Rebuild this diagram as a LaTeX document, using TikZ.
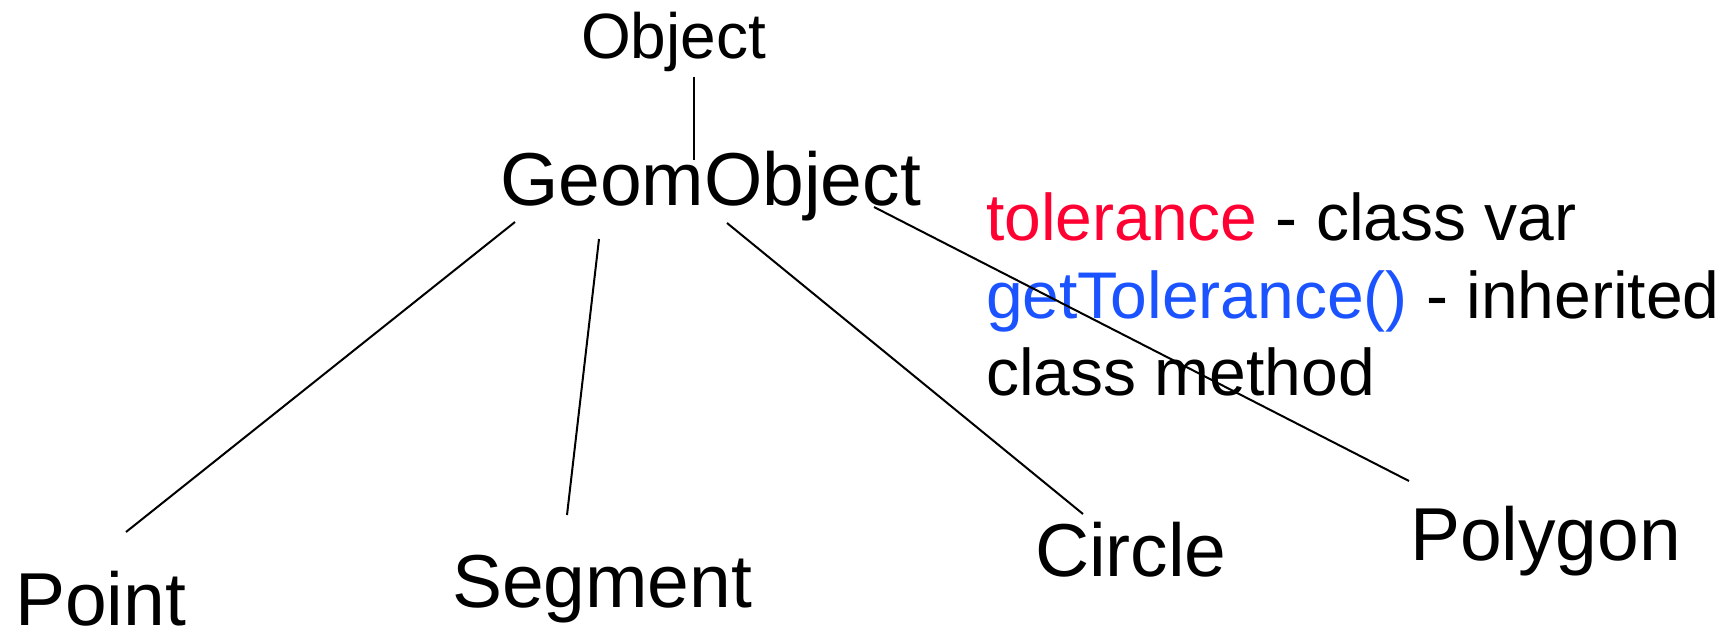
\documentclass[tikz,border=0pt]{standalone}
\usepackage{fontspec}
\setmainfont{Liberation Sans}
\definecolor{tolred}{RGB}{255,0,51}
\definecolor{getblue}{RGB}{26,83,255}
\begin{document}
\begin{tikzpicture}[x=1pt,y=-1pt,
  lbl/.style={anchor=base west, inner sep=0pt, outer sep=0pt},
  big/.style={lbl, font=\fontsize{75}{90}\selectfont},
  small/.style={lbl, font=\fontsize{64}{77}\selectfont},
  note/.style={lbl, font=\fontsize{66}{78}\selectfont},
  edge/.style={line width=2pt, line cap=butt}]
\useasboundingbox (0,0) rectangle (1733,626);
% class names
\node[small] (object) at (581,59) {Object};
\node[big] (geom) at (500,205) {GeomObject};
\node[big] (point) at (15,625) {Point};
\node[big] (segment) at (452,607) {Segment};
\node[big] (circle) at (1035,576) {Circle};
\node[big] (polygon) at (1410,560) {Polygon};
% annotation
\node[note] (note1) at (986,240) {\textcolor{tolred}{tolerance} - class var};
\node[note] (note2) at (986,318) {\textcolor{getblue}{getTolerance()} - inherited};
\node[note] (note3) at (986,395) {class method};
% connector ends
\coordinate (o1) at (694,77);
\coordinate (o2) at (694,160);
\coordinate (p1) at (515,222);
\coordinate (p2) at (126,532);
\coordinate (s1) at (599,239);
\coordinate (s2) at (567,515);
\coordinate (c1) at (727,223);
\coordinate (c2) at (1083,514);
\coordinate (g1) at (874,207);
\coordinate (g2) at (1409,481);
% connectors
\draw[edge] (o1) -- (o2);
\draw[edge] (p1) -- (p2);
\draw[edge] (s1) -- (s2);
\draw[edge] (c1) -- (c2);
\draw[edge] (g1) -- (g2);
\end{tikzpicture}
\end{document}
